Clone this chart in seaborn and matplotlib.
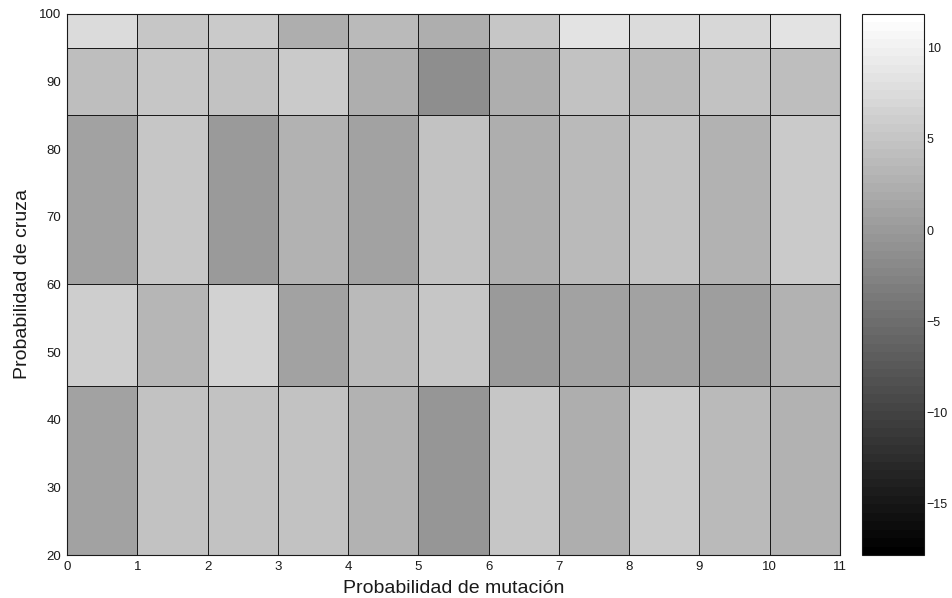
import numpy as np
import matplotlib
matplotlib.use("Agg")
import matplotlib.pyplot as plt
import seaborn as sns

# cell edges (non uniform rows, like a matlab pcolor)
mut_edges = list(range(0, 12))
cruza_edges = [20, 45, 60, 85, 95, 100]

# values per band of "Probabilidad de cruza", one per mutation column (0..10)
row_20_45 = [1.04, 4.76, 4.76, 4.76, 2.66, -0.59, 5.22, 2.43, 5.45, 3.83, 2.90]
row_45_60 = [5.92, 3.13, 6.38, 1.04, 3.59, 4.99, 0.11, 1.04, 0.80, 0.57, 2.90]
row_60_85 = [1.04, 4.99, 0.11, 2.90, 1.04, 4.52, 2.43, 3.83, 4.76, 2.90, 5.45]
row_85_95 = [4.06, 4.99, 4.76, 5.69, 2.43, -1.52, 2.43, 4.76, 3.59, 4.76, 4.06]
row_95_100 = [7.31, 4.99, 5.69, 2.43, 3.59, 2.43, 4.99, 8.24, 7.55, 7.08, 8.24]

color_min, color_max = -17.8, 11.85

sns.set_theme(style="white", rc={
    'xtick.bottom': True, 'ytick.left': True,
    'xtick.direction': 'in', 'ytick.direction': 'in',
    'text.color': 'k', 'axes.labelcolor': 'k',
    'xtick.color': 'k', 'ytick.color': 'k',
})
plt.rcParams['font.family'] = ['Liberation Sans', 'DejaVu Sans']

Z = np.array([row_20_45, row_45_60, row_60_85, row_85_95, row_95_100])
cmap = plt.get_cmap('gray', 64)

fig = plt.figure(figsize=(9.53, 5.98), dpi=100)
ax = fig.add_axes([0.0703, 0.0719, 0.8111, 0.9047])
cax = fig.add_axes([0.9045, 0.0719, 0.0651, 0.9047])

mesh = ax.pcolormesh(mut_edges, cruza_edges, Z, cmap=cmap, vmin=color_min, vmax=color_max,
                     edgecolors='k', linewidth=0.5)
ax.set_xlim(0, 11)
ax.set_ylim(20, 100)
ax.set_xticks(range(0, 12))
ax.set_yticks(range(20, 101, 10))
ax.tick_params(axis='both', labelsize=9.5, length=4, width=0.6,
               top=True, right=True, pad=4)
ax.set_xlabel("Probabilidad de mutación", fontsize=14, labelpad=5)
ax.set_ylabel("Probabilidad de cruza", fontsize=14, labelpad=6)
for s in ax.spines.values():
    s.set_color('k')
    s.set_linewidth(0.8)

cb = fig.colorbar(mesh, cax=cax)
cb.set_ticks([10, 5, 0, -5, -10, -15])
cb.ax.set_yticklabels(['10', '5', '0', '\u22125', '\u221210', '\u221215'])
cb.ax.tick_params(labelsize=9, direction='in', length=4, width=0.6, left=True, right=True, pad=2)
cb.outline.set_edgecolor('k')
cb.outline.set_linewidth(0.8)

fig.savefig("out.png", dpi=100)
